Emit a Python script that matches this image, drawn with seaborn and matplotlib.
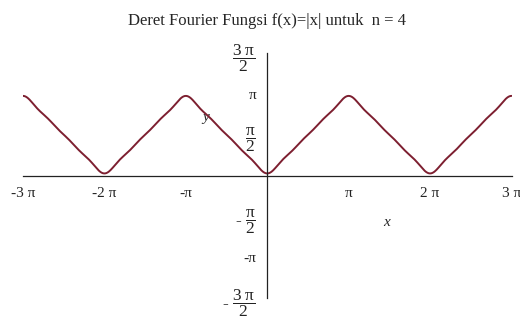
import numpy as np
import pandas as pd
import matplotlib
matplotlib.use("Agg")
import matplotlib.pyplot as plt
import matplotlib.transforms as mtransforms
import seaborn as sns

# Partial sum of the cosine series of f(x) = |x| on [-pi, pi], n = 4 terms
n_terms = 4
constant_term = np.pi / 2
harmonics = [1, 3, 5, 7]
coefficients = [-1.27324, -0.14147, -0.05093, -0.02598]

x_ticks = [-3 * np.pi, -2 * np.pi, -np.pi, np.pi, 2 * np.pi, 3 * np.pi]
x_tick_labels = ["-3 π", "-2 π", "-π", "π", "2 π", "3 π"]
y_ticks = [1.5 * np.pi, np.pi, 0.5 * np.pi, -0.5 * np.pi, -np.pi, -1.5 * np.pi]
y_tick_labels = [r"$\dfrac{3\ \mathrm{π}}{2}$", "π", r"$\dfrac{\mathrm{π}}{2}$",
                 r"- $\dfrac{\mathrm{π}}{2}$", "-π", r"- $\dfrac{3\ \mathrm{π}}{2}$"]

x = np.linspace(-3 * np.pi, 3 * np.pi, 1200)
y = constant_term + sum(c * np.cos(k * x) for k, c in zip(harmonics, coefficients))
df = pd.DataFrame({"x": x, "y": y})

sns.set_style("white")
plt.rcParams["font.family"] = ["Liberation Serif", "DejaVu Serif"]
plt.rcParams["mathtext.fontset"] = "custom"
plt.rcParams["mathtext.rm"] = "Liberation Serif"
plt.rcParams["mathtext.it"] = "Liberation Serif:italic"
plt.rcParams["mathtext.bf"] = "Liberation Serif:bold"

fig = plt.figure(figsize=(5.2, 3.2), dpi=100)
ax = fig.add_axes([23 / 520, 22 / 320, 488.5 / 520, 245 / 320])

sns.lineplot(data=df, x="x", y="y", ax=ax, color="#7d1f30", linewidth=1.4)

ax.set_xlim(-3 * np.pi, 3 * np.pi)
ax.set_ylim(-1.5 * np.pi, 1.5 * np.pi)

for side in ("top", "right"):
    ax.spines[side].set_visible(False)
ax.spines["left"].set_position(("data", 0))
ax.spines["bottom"].set_position(("data", 0))
for side in ("left", "bottom"):
    ax.spines[side].set_linewidth(0.9)
    ax.spines[side].set_color("#222222")

ax.set_xticks(x_ticks)
ax.set_xticklabels(x_tick_labels, fontsize=11)
ax.set_yticks(y_ticks)
ax.set_yticklabels(y_tick_labels, fontsize=11)
for lab in ax.get_yticklabels():
    if "dfrac" in lab.get_text():
        lab.set_fontsize(12.5)
# nudge the lowest fraction label up a little so it stays inside the figure
lowest = ax.get_yticklabels()[-1]
lowest.set_transform(lowest.get_transform()
                     + mtransforms.ScaledTranslation(0, 3 / 100, fig.dpi_scale_trans))
ax.set_xticks(np.arange(-3 * np.pi, 3.01 * np.pi, np.pi / 4), minor=True)
ax.set_yticks(np.arange(-1.5 * np.pi, 1.51 * np.pi, np.pi / 4), minor=True)

ax.tick_params(axis="x", which="major", direction="out", length=3, width=0.8,
               pad=5, colors="#222222")
ax.tick_params(axis="y", which="major", direction="in", length=3, width=0.8,
               pad=8, colors="#222222")
ax.tick_params(which="minor", length=2, width=0.5, color="#cccccc")
ax.tick_params(axis="x", which="minor", direction="out")
ax.tick_params(axis="y", which="minor", direction="in")

ax.set_xlabel("x", fontsize=11, style="italic")
ax.xaxis.set_label_coords(0.745, 0.335)
ax.set_ylabel("y", fontsize=11, style="italic", rotation=0)
ax.yaxis.set_label_coords(0.373, 0.71)

ax.set_title(f"Deret Fourier Fungsi f(x)=|x| untuk  n = {n_terms}",
             fontsize=12, pad=0, y=1.0 + 28 / 245)

fig.savefig("out.png", dpi=100)
